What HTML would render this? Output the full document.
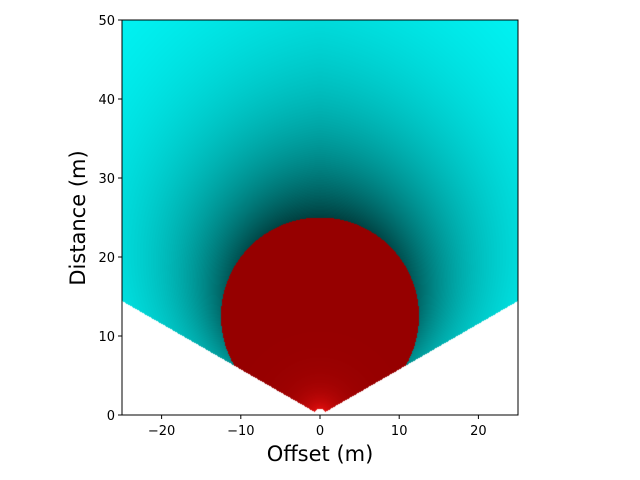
<!DOCTYPE html>
<html><head><meta charset="utf-8"><style>
body{margin:0;background:#fff;width:640px;height:480px;overflow:hidden;font-family:"DejaVu Sans","Liberation Sans",sans-serif}
#wrap{position:relative;width:640px;height:480px}
canvas{position:absolute;left:122px;top:20px}
svg{position:absolute;left:0;top:0}
</style></head><body>
<div id="wrap">
<canvas id="field" width="396" height="395"></canvas>
<svg id="ax" width="640" height="480"></svg>
</div>
<script>
const xTicks=[-20,-10,0,10,20];
const yTicks=[0,10,20,30,40,50];
const xDomain=[-25,25];
const yDomain=[0,50];
const circleCenter=[0,12.5];
const circleRadius=[12.5];
const wedgeHalfAngleDeg=[60];
const L=122,R=518,T=20,B=415;
function sx(v){return L+(v-xDomain[0])/(xDomain[1]-xDomain[0])*(R-L);}
function sy(v){return B-(v-yDomain[0])/(yDomain[1]-yDomain[0])*(B-T);}
const cv=document.getElementById('field');const ctx=cv.getContext('2d');
const W=cv.width,H=cv.height;const img=ctx.createImageData(W,H);
const half=wedgeHalfAngleDeg[0]*Math.PI/180;
for(let py=0;py<H;py++){for(let px=0;px<W;px++){
 const x=xDomain[0]+(px+0.5)/W*(xDomain[1]-xDomain[0]);
 const y=yDomain[1]-(py+0.5)/H*(yDomain[1]-yDomain[0]);
 const i=(py*W+px)*4;let r=255,g=255,b=255;
 const rr=Math.hypot(x,y);const th=Math.atan2(Math.abs(x),y);
 if(th<=half && rr>0.8){
  const dx=x-circleCenter[0],dy=y-circleCenter[1];
  const dc=Math.hypot(dx,dy);
  if(dc<=circleRadius[0]){
   const k=Math.exp(-rr/2.0);
   r=Math.round(150+105*k);g=Math.round(20*k);b=Math.round(20*k);
  }else{
   const d=dc-circleRadius[0];
   const phi=Math.atan2(Math.abs(dx),dy);
   const t=Math.min(1,phi/(115*Math.PI/180));
   const base=0.25+0.3*t*t;
   const Ld=15-9*t;
   let v=1-(1-base)*Math.exp(-d/Ld);v=Math.max(0.2,Math.min(1,v));
   r=0;g=Math.round(255*v);b=g;
  }
 }
 img.data[i]=r;img.data[i+1]=g;img.data[i+2]=b;img.data[i+3]=255;
}}
ctx.putImageData(img,0,0);
const svg=document.getElementById('ax');const NS='http://www.w3.org/2000/svg';
function mk(tag,attrs,name){const e=document.createElementNS(NS,tag);for(const k in attrs)e.setAttribute(k,attrs[k]);


svg.appendChild(e);return e;}
mk('rect',{x:L,y:T,width:R-L,height:B-T,fill:'none',stroke:'#000','stroke-width':1},'plot-frame');
xTicks.forEach(v=>{const X=sx(v);
 mk('line',{x1:X,y1:B,x2:X,y2:B+4,stroke:'#000'},'x-tick');
 const t=mk('text',{x:X,y:B+20,'text-anchor':'middle','font-size':13,fill:'#000'},'x-tick-label');t.textContent=v<0?'\u2212'+(-v):v;});
yTicks.forEach(v=>{const Y=sy(v);
 mk('line',{x1:L-4,y1:Y,x2:L,y2:Y,stroke:'#000'},'y-tick');
 const t=mk('text',{x:L-7,y:Y+5,'text-anchor':'end','font-size':13,fill:'#000'},'y-tick-label');t.textContent=v;});
const xl=mk('text',{x:320,y:461,'text-anchor':'middle','font-size':21,fill:'#000'},'x-axis-title');xl.textContent='Offset (m)';
const yl=mk('text',{x:85,y:218,'text-anchor':'middle','font-size':21,fill:'#000',transform:'rotate(-90 85 218)'},'y-axis-title');yl.textContent='Distance (m)';
</script>
</body></html>
